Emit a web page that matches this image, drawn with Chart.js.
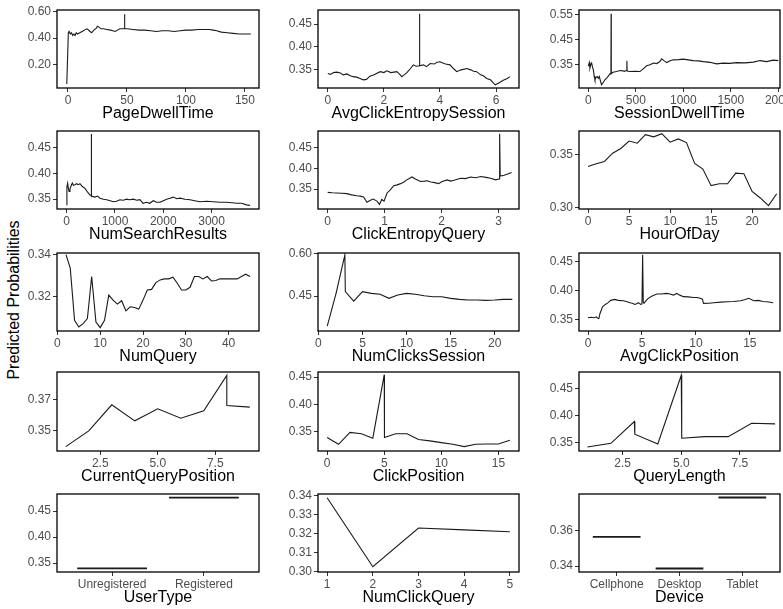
<!DOCTYPE html>
<html>
<head>
<meta charset="utf-8">
<script src="https://cdn.jsdelivr.net/npm/chart.js@4.4.1/dist/chart.umd.min.js"></script>
<style>
  body { margin: 0; width: 783px; height: 609px; overflow: hidden; background: #fff; position: relative; }
  canvas { position: absolute; }
  #ylab { position: absolute; left: 14px; top: 300px; transform: translate(-50%, -50%) rotate(-90deg);
          font: 16px "Liberation Sans", Arial, sans-serif; white-space: nowrap; color: #000; }
</style>
</head>
<body>
<div id="ylab">Predicted Probabilities</div>
<script>
// ---- data ----
const pageDwellX = [-1, 0.3, 1, 2, 3, 4, 5, 6, 7, 8, 10, 12, 14, 16, 17, 18, 20, 22, 24, 25, 26, 28, 30, 33, 36, 38, 40, 42, 44, 46, 47.9, 48, 48.1, 50, 55, 60, 65, 70, 75, 80, 85, 90, 95, 100, 105, 110, 115, 120, 123, 126, 130, 135, 140, 145, 150, 155];
const pageDwellY = [0.05, 0.44, 0.45, 0.43, 0.44, 0.42, 0.43, 0.42, 0.44, 0.43, 0.44, 0.45, 0.46, 0.47, 0.465, 0.455, 0.44, 0.46, 0.475, 0.49, 0.485, 0.47, 0.47, 0.465, 0.46, 0.455, 0.45, 0.46, 0.47, 0.47, 0.47, 0.58, 0.47, 0.47, 0.465, 0.46, 0.46, 0.455, 0.45, 0.455, 0.455, 0.45, 0.455, 0.46, 0.46, 0.465, 0.465, 0.465, 0.46, 0.455, 0.445, 0.44, 0.435, 0.43, 0.43, 0.43];

const avgEntropyX = [0, 0.1, 0.2, 0.32, 0.45, 0.55, 0.68, 0.8, 0.9, 1.03, 1.15, 1.27, 1.38, 1.5, 1.65, 1.87, 2.0, 2.1, 2.25, 2.46, 2.55, 2.64, 2.72, 2.82, 2.95, 3.05, 3.15, 3.26, 3.27, 3.28, 3.41, 3.52, 3.65, 3.8, 3.9, 4.0, 4.1, 4.2, 4.36, 4.48, 4.6, 4.75, 4.96, 5.1, 5.2, 5.31, 5.45, 5.55, 5.67, 5.8, 5.97, 6.1, 6.26, 6.4, 6.5];
const avgEntropyY = [0.341, 0.339, 0.343, 0.344, 0.342, 0.338, 0.340, 0.336, 0.334, 0.333, 0.330, 0.327, 0.328, 0.335, 0.338, 0.345, 0.343, 0.347, 0.343, 0.345, 0.340, 0.334, 0.338, 0.343, 0.352, 0.360, 0.357, 0.358, 0.473, 0.358, 0.360, 0.356, 0.363, 0.362, 0.366, 0.367, 0.364, 0.362, 0.360, 0.352, 0.345, 0.349, 0.352, 0.349, 0.346, 0.345, 0.338, 0.336, 0.330, 0.327, 0.316, 0.320, 0.326, 0.330, 0.334];

const sessionDwellX = [0, 10, 17, 25, 35, 45, 53, 62, 70, 82, 95, 105, 116, 128, 140, 155, 175, 200, 228, 238, 240, 242, 260, 298, 325, 350, 380, 400, 405, 407, 409, 439, 490, 544, 580, 614, 650, 684, 720, 754, 772, 800, 825, 860, 895, 950, 1000, 1050, 1105, 1160, 1210, 1280, 1350, 1421, 1490, 1561, 1650, 1737, 1807, 1877, 1947, 2000];
const sessionDwellY = [0.345, 0.359, 0.337, 0.350, 0.357, 0.340, 0.330, 0.305, 0.290, 0.300, 0.303, 0.296, 0.303, 0.285, 0.270, 0.278, 0.290, 0.300, 0.314, 0.313, 0.555, 0.315, 0.320, 0.323, 0.326, 0.327, 0.324, 0.327, 0.327, 0.366, 0.325, 0.323, 0.324, 0.323, 0.335, 0.346, 0.350, 0.357, 0.355, 0.363, 0.374, 0.366, 0.359, 0.366, 0.370, 0.371, 0.373, 0.370, 0.367, 0.366, 0.363, 0.360, 0.354, 0.357, 0.356, 0.359, 0.358, 0.361, 0.367, 0.363, 0.369, 0.367];

const searchResultsX = [0, 5, 20, 34, 50, 69, 85, 103, 120, 138, 170, 207, 240, 276, 320, 379, 430, 483, 505, 510, 515, 550, 586, 640, 690, 760, 828, 900, 966, 1030, 1103, 1170, 1241, 1300, 1380, 1450, 1517, 1580, 1655, 1720, 1793, 1860, 1931, 2000, 2069, 2140, 2207, 2280, 2345, 2450, 2552, 2650, 2759, 2900, 3034, 3170, 3310, 3420, 3517, 3620, 3724, 3793];
const searchResultsY = [0.339, 0.374, 0.381, 0.372, 0.365, 0.370, 0.374, 0.379, 0.381, 0.377, 0.378, 0.380, 0.378, 0.380, 0.375, 0.371, 0.364, 0.358, 0.357, 0.476, 0.356, 0.355, 0.354, 0.356, 0.352, 0.350, 0.349, 0.347, 0.345, 0.346, 0.349, 0.348, 0.350, 0.349, 0.350, 0.348, 0.349, 0.342, 0.344, 0.342, 0.347, 0.344, 0.344, 0.347, 0.350, 0.352, 0.354, 0.351, 0.352, 0.350, 0.349, 0.347, 0.345, 0.346, 0.345, 0.344, 0.344, 0.343, 0.342, 0.342, 0.339, 0.338];

const entropyQueryX = [0, 0.08, 0.16, 0.25, 0.335, 0.42, 0.51, 0.57, 0.63, 0.69, 0.75, 0.8, 0.865, 0.91, 0.95, 0.99, 1.04, 1.1, 1.16, 1.22, 1.28, 1.34, 1.39, 1.44, 1.48, 1.54, 1.63, 1.7, 1.75, 1.81, 1.86, 1.95, 2.01, 2.1, 2.16, 2.22, 2.34, 2.42, 2.51, 2.6, 2.69, 2.78, 2.86, 2.95, 3.01, 3.02, 3.03, 3.1, 3.16, 3.23];
const entropyQueryY = [0.342, 0.341, 0.3405, 0.340, 0.339, 0.336, 0.334, 0.333, 0.331, 0.318, 0.323, 0.326, 0.321, 0.313, 0.325, 0.321, 0.340, 0.348, 0.358, 0.360, 0.363, 0.367, 0.372, 0.376, 0.379, 0.374, 0.368, 0.369, 0.370, 0.367, 0.366, 0.363, 0.368, 0.372, 0.369, 0.371, 0.376, 0.375, 0.379, 0.377, 0.380, 0.378, 0.376, 0.372, 0.374, 0.483, 0.381, 0.383, 0.386, 0.390];

const hourX = [0, 1, 2, 3, 4, 5, 6, 7, 8, 9, 10, 11, 12, 13, 14, 15, 16, 17, 18, 19, 20, 21, 22, 23];
const hourY = [0.339, 0.3416, 0.3438, 0.3516, 0.356, 0.363, 0.361, 0.369, 0.367, 0.370, 0.362, 0.365, 0.3616, 0.342, 0.3366, 0.321, 0.3228, 0.3228, 0.3328, 0.3322, 0.3156, 0.3094, 0.3022, 0.3134];

const numQueryX = [2, 3, 4, 5, 6, 7, 8, 9, 10, 11, 12, 13, 14, 15, 16, 17, 18, 19, 20, 21, 22, 23, 24, 25, 26, 27, 28, 29, 30, 31, 32, 33, 34, 35, 36, 37, 38, 39, 40, 41, 42, 43, 44, 45];
const numQueryY = [0.340, 0.3336, 0.3088, 0.3056, 0.3072, 0.3096, 0.3296, 0.308, 0.3053, 0.3088, 0.3208, 0.3184, 0.3165, 0.3181, 0.3133, 0.3152, 0.3149, 0.3141, 0.3184, 0.3232, 0.3235, 0.3267, 0.328, 0.3285, 0.3285, 0.3293, 0.3264, 0.3232, 0.3232, 0.3245, 0.3296, 0.3296, 0.3285, 0.3296, 0.3275, 0.3277, 0.3285, 0.3285, 0.3285, 0.3285, 0.3285, 0.3296, 0.3307, 0.3296];

const clicksSessionX = [1, 2, 3, 3.05, 4, 5, 6, 7, 8, 9, 10, 11, 12, 13, 14, 15, 16, 17, 18, 19, 20, 21, 22];
const clicksSessionY = [0.343, 0.4595, 0.596, 0.4655, 0.432, 0.4655, 0.4595, 0.456, 0.4417, 0.4536, 0.4595, 0.456, 0.4512, 0.4476, 0.4476, 0.4417, 0.438, 0.4357, 0.4357, 0.4345, 0.4357, 0.438, 0.438];

const avgPositionX = [0, 0.3, 0.55, 0.78, 0.9, 1.0, 1.1, 1.34, 1.6, 1.86, 2.1, 2.48, 2.8, 3.26, 3.55, 3.88, 4.1, 4.35, 4.5, 4.66, 4.88, 5.0, 5.06, 5.12, 5.19, 5.4, 5.59, 5.9, 6.37, 6.8, 7.3, 7.6, 7.92, 8.23, 8.5, 8.85, 9.3, 9.78, 10.1, 10.4, 10.6, 10.71, 11.2, 11.65, 12.3, 12.89, 13.5, 14.13, 14.5, 14.9, 15.37, 15.8, 16.2, 16.6, 17.17];
const avgPositionY = [0.353, 0.354, 0.353, 0.3546, 0.352, 0.3517, 0.360, 0.372, 0.376, 0.379, 0.383, 0.3847, 0.383, 0.3824, 0.381, 0.379, 0.378, 0.376, 0.377, 0.379, 0.376, 0.377, 0.4617, 0.380, 0.3778, 0.383, 0.3865, 0.390, 0.394, 0.394, 0.395, 0.394, 0.392, 0.395, 0.392, 0.3894, 0.389, 0.388, 0.388, 0.3865, 0.385, 0.3778, 0.378, 0.379, 0.380, 0.3807, 0.381, 0.3824, 0.384, 0.3865, 0.3824, 0.383, 0.381, 0.3807, 0.379];

const queryPosX = [1, 2, 3, 4, 5, 6, 7, 8, 8, 9];
const queryPosY = [0.3399, 0.350, 0.3668, 0.3565, 0.3642, 0.3582, 0.3629, 0.3857, 0.3663, 0.3653];

const clickPosX = [0, 1, 2, 3, 4, 5, 5.02, 6, 7, 8, 9, 10, 11, 12, 13, 14, 15, 16];
const clickPosY = [0.3388, 0.3263, 0.3481, 0.3456, 0.3375, 0.4544, 0.3388, 0.3456, 0.3456, 0.335, 0.3325, 0.3294, 0.3263, 0.3219, 0.3263, 0.3269, 0.3269, 0.3338];

const queryLenX = [1, 2, 3, 3.02, 4, 5, 5.02, 6, 7, 8, 9];
const queryLenY = [0.3413, 0.3481, 0.3888, 0.365, 0.3469, 0.475, 0.3575, 0.3606, 0.3606, 0.3856, 0.3844];

const userTypes = ['Unregistered', 'Registered'];
const userTypeY = [0.340, 0.476];

const numClickQueryX = [1, 2, 3, 4, 5];
const numClickQueryY = [0.339, 0.3025, 0.323, 0.322, 0.321];

const devices = ['Cellphone', 'Desktop', 'Tablet'];
const deviceY = [0.3566, 0.3386, 0.379];

// ---- layout of the 5 x 3 grid (plot box edges in px) ----
const colL = [57, 318, 579];
const colR = [259, 519, 780];
const rowT = [10, 131, 253, 372, 494];
const rowB = [88, 209, 331, 451, 572];
const AXW = 50, AXH = 35, PADT = 6, PADR = 4;
const FONT = '"Liberation Sans", Arial, sans-serif';
Chart.defaults.font.family = FONT;

function pts(xs, ys) { return [xs.map((x, i) => ({ x: x, y: ys[i] }))]; }
function bars(ys) { return ys.map((y, i) => [{ x: i + 0.62, y: y }, { x: i + 1.38, y: y }]); }

const panels = [
  { r: 0, c: 0, title: 'PageDwellTime', sets: pts(pageDwellX, pageDwellY), x: [-9.3, 161.9], y: [0.02, 0.613], xt: [0, 50, 100, 150], yt: [0.2, 0.4, 0.6] },
  { r: 0, c: 1, title: 'AvgClickEntropySession', sets: pts(avgEntropyX, avgEntropyY), x: [-0.35, 6.82], y: [0.309, 0.481], xt: [0, 2, 4, 6], yt: [0.35, 0.40, 0.45] },
  { r: 0, c: 2, title: 'SessionDwellTime', sets: pts(sessionDwellX, sessionDwellY), x: [-98, 2018], y: [0.257, 0.57], xt: [0, 500, 1000, 1500, 2000], yt: [0.35, 0.45, 0.55] },
  { r: 1, c: 0, title: 'NumSearchResults', sets: pts(searchResultsX, searchResultsY), x: [-200, 3981], y: [0.331, 0.482], xt: [0, 1000, 2000, 3000], yt: [0.35, 0.40, 0.45] },
  { r: 1, c: 1, title: 'ClickEntropyQuery', sets: pts(entropyQueryX, entropyQueryY), x: [-0.17, 3.36], y: [0.302, 0.4895], xt: [0, 1, 2, 3], yt: [0.35, 0.40, 0.45] },
  { r: 1, c: 2, title: 'HourOfDay', sets: pts(hourX, hourY), x: [-1.1, 23.4], y: [0.299, 0.3725], xt: [0, 5, 10, 15, 20], yt: [0.30, 0.35] },
  { r: 2, c: 0, title: 'NumQuery', sets: pts(numQueryX, numQueryY), x: [-0.1, 47.1], y: [0.3037, 0.3408], xt: [0, 10, 20, 30, 40], yt: [0.32, 0.34] },
  { r: 2, c: 1, title: 'NumClicksSession', sets: pts(clicksSessionX, clicksSessionY), x: [-0.05, 22.76], y: [0.326, 0.6025], xt: [0, 5, 10, 15, 20], yt: [0.45, 0.60] },
  { r: 2, c: 2, title: 'AvgClickPosition', sets: pts(avgPositionX, avgPositionY), x: [-0.84, 17.8], y: [0.3302, 0.4646], xt: [0, 5, 10, 15], yt: [0.35, 0.40, 0.45] },
  { r: 3, c: 0, title: 'CurrentQueryPosition', sets: pts(queryPosX, queryPosY), x: [0.62, 9.4], y: [0.3371, 0.3879], xt: [2.5, 5, 7.5], yt: [0.35, 0.37], xd: 1 },
  { r: 3, c: 1, title: 'ClickPosition', sets: pts(clickPosX, clickPosY), x: [-0.8, 16.8], y: [0.3139, 0.4594], xt: [0, 5, 10, 15], yt: [0.35, 0.40, 0.45] },
  { r: 3, c: 2, title: 'QueryLength', sets: pts(queryLenX, queryLenY), x: [0.64, 9.21], y: [0.3338, 0.481], xt: [2.5, 5, 7.5], yt: [0.35, 0.40, 0.45], xd: 1 },
  { r: 4, c: 0, title: 'UserType', sets: bars(userTypeY), x: [0.4, 2.6], y: [0.333, 0.483], xt: [1, 2], yt: [0.35, 0.40, 0.45], cats: userTypes, lw: 1.8 },
  { r: 4, c: 1, title: 'NumClickQuery', sets: pts(numClickQueryX, numClickQueryY), x: [0.8, 5.2], y: [0.2997, 0.341], xt: [1, 2, 3, 4, 5], yt: [0.30, 0.31, 0.32, 0.33, 0.34] },
  { r: 4, c: 2, title: 'Device', sets: bars(deviceY), x: [0.4, 3.6], y: [0.3366, 0.381], xt: [1, 2, 3], yt: [0.34, 0.36], cats: devices, lw: 1.8 }
];

const boxPlugin = {
  id: 'box',
  afterDraw(chart) {
    const a = chart.chartArea, ctx = chart.ctx;
    ctx.save();
    ctx.strokeStyle = '#000';
    ctx.lineWidth = 1.3;
    ctx.strokeRect(a.left, a.top, a.right - a.left, a.bottom - a.top);
    ctx.restore();
  }
};

panels.forEach(function (p) {
  const cv = document.createElement('canvas');
  const w = colR[p.c] - colL[p.c] + AXW + PADR;
  const h = rowB[p.r] - rowT[p.r] + PADT + AXH;
  cv.width = w; cv.height = h;
  cv.style.left = (colL[p.c] - AXW) + 'px';
  cv.style.top = (rowT[p.r] - PADT) + 'px';
  cv.style.width = w + 'px'; cv.style.height = h + 'px';
  document.body.appendChild(cv);

  const tickGrid = { display: true, drawOnChartArea: false, drawTicks: true, tickLength: 4, color: '#333' };
  new Chart(cv, {
    type: 'line',
    data: {
      datasets: p.sets.map(s => ({ data: s, borderColor: '#1a1a1a', borderWidth: p.lw || 1.1, pointRadius: 0, tension: 0, fill: false }))
    },
    options: {
      responsive: false,
      animation: false,
      layout: { padding: { top: PADT, right: PADR, left: 0, bottom: 0 } },
      plugins: { legend: { display: false }, tooltip: { enabled: false } },
      scales: {
        x: {
          type: 'linear', min: p.x[0], max: p.x[1],
          afterBuildTicks: s => { s.ticks = p.xt.map(v => ({ value: v })); },
          afterFit: s => { s.height = AXH; s.paddingLeft = 0; s.paddingRight = 0; },
          grid: tickGrid,
          border: { display: false },
          ticks: {
            color: '#4d4d4d', font: { size: 12 }, padding: 1, maxRotation: 0, autoSkip: false,
            callback: v => p.cats ? p.cats[Math.round(v) - 1] : v.toFixed(p.xd || 0)
          },
          title: { display: true, text: p.title, color: '#000', font: { size: 16 }, padding: 0 }
        },
        y: {
          type: 'linear', min: p.y[0], max: p.y[1],
          afterBuildTicks: s => { s.ticks = p.yt.map(v => ({ value: v })); },
          afterFit: s => { s.width = AXW; s.paddingTop = 0; s.paddingBottom = 0; },
          grid: tickGrid,
          border: { display: false },
          ticks: { color: '#4d4d4d', font: { size: 12 }, padding: 2, callback: v => v.toFixed(2) }
        }
      }
    },
    plugins: [boxPlugin]
  });
});
</script>
</body>
</html>
